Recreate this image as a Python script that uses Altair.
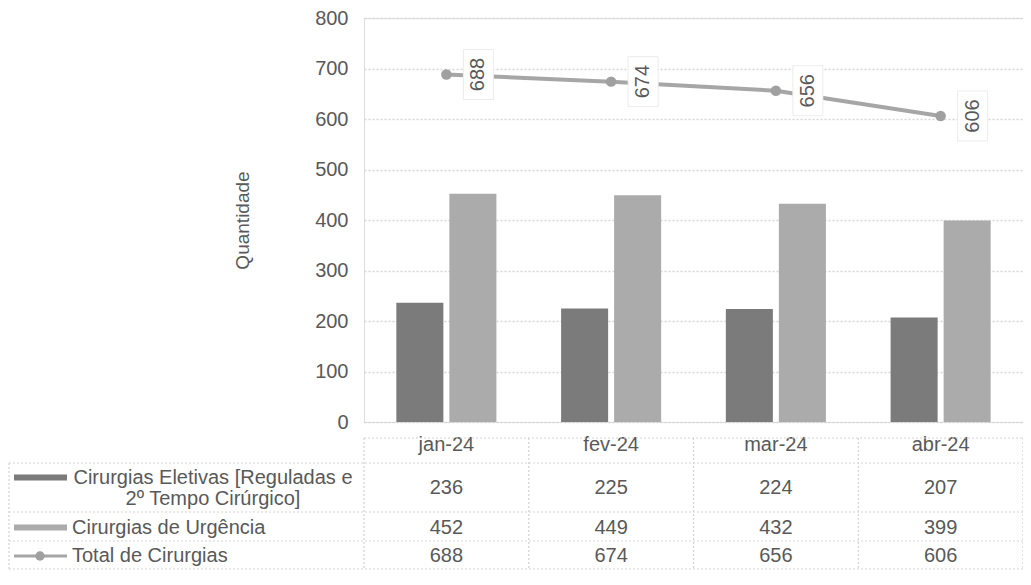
import altair as alt
import pandas as pd

months = ["jan-24", "fev-24", "mar-24", "abr-24"]
eletivas = [236, 225, 224, 207]
urgencia = [452, 449, 432, 399]
total = [688, 674, 656, 606]
series = [
    "Cirurgias Eletivas [Reguladas e\n2º Tempo Cirúrgico]",
    "Cirurgias de Urgência",
    "Total de Cirurgias",
]
y_ticks = [0, 100, 200, 300, 400, 500, 600, 700, 800]

FONT = "Liberation Sans"
TXT = "#595959"
DARK = "#7b7b7b"
LIGHT = "#ababab"
LINEC = "#a6a6a6"
GRID = "#d6d6d6"

W, H = 659, 404
HALF = W / 8  # half of one month column

bars_df = pd.DataFrame({
    "mes": months * 2,
    "serie": [series[0]] * 4 + [series[1]] * 4,
    "valor": eletivas + urgencia,
})
tot_df = pd.DataFrame({"mes": months, "valor": total})
table_df = pd.DataFrame({
    "mes": months * 3,
    "serie": [series[0]] * 4 + [series[1]] * 4 + [series[2]] * 4,
    "valor": eletivas + urgencia + total,
})
leg_df = pd.DataFrame({"serie": series})
one = pd.DataFrame({"k": [0]})

x_enc = alt.X(
    "mes:N", sort=months,
    scale=alt.Scale(paddingInner=0, paddingOuter=0),
    axis=alt.Axis(title=None, labelFontSize=20, labelFont=FONT, labelColor=TXT,
                  labelPadding=22, ticks=False, domain=False, labelAngle=0,
                  labelAlign="center", bandPosition=0.5, grid=False),
)
y_enc = alt.Y(
    "valor:Q",
    scale=alt.Scale(domain=[0, 800], nice=False),
    axis=alt.Axis(title="Quantidade", values=y_ticks, labelFontSize=20, labelFont=FONT,
                  labelColor=TXT, labelPadding=16, ticks=False, domain=False,
                  grid=True, gridColor=GRID, gridDash=[2, 2], gridWidth=1.5,
                  titleFont=FONT, titleFontSize=19, titleFontWeight="normal",
                  titleColor=TXT, titlePadding=62),
)
color_scale = alt.Scale(domain=series[:2], range=[DARK, LIGHT])
xm = alt.X("mes:N", sort=months)

bars = alt.Chart(bars_df).mark_bar().encode(
    x=x_enc,
    xOffset=alt.XOffset("serie:N", sort=series[:2],
                        scale=alt.Scale(paddingInner=0.113, paddingOuter=0.61)),
    y=y_enc,
    color=alt.Color("serie:N", scale=color_scale, legend=None),
)

line = alt.Chart(tot_df).mark_line(color=LINEC, strokeWidth=4).encode(x=xm, y="valor:Q")
pts = alt.Chart(tot_df).mark_circle(size=110, color="#a0a0a0", opacity=1).encode(
    x=xm, y="valor:Q")
boxes = alt.Chart(tot_df).mark_point(
    shape="M-0.6,-1H0.6V1H-0.6Z", size=2500, filled=True, fill="white",
    stroke="#ececec", strokeWidth=1, opacity=1, xOffset=32,
).encode(x=xm, y="valor:Q")
labels = alt.Chart(tot_df).mark_text(
    angle=270, xOffset=32, fontSize=20, font=FONT, color=TXT,
    align="center", baseline="middle",
).encode(x=xm, y="valor:Q", text="valor:Q")

# table geometry (plot coordinates)
T_HEAD, T_A, T_B, T_C, T_END = 420, 445, 494, 523, 551
LEFT = -355
LC = "#d3d3d3"
rule_style = dict(color=LC, strokeDash=[2, 2], strokeWidth=1.2)


def hline(yv, x1, x2):
    return alt.Chart(one).mark_rule(**rule_style).encode(
        x=alt.value(x1), x2=alt.value(x2), y=alt.value(yv))


vlines = alt.Chart(tot_df).mark_rule(xOffset=-HALF, **rule_style).encode(
    x=xm, y=alt.value(T_HEAD), y2=alt.value(T_END))
vline_end = alt.Chart(one).mark_rule(**rule_style).encode(
    x=alt.value(W), y=alt.value(T_HEAD), y2=alt.value(T_END))
vline_left = alt.Chart(one).mark_rule(**rule_style).encode(
    x=alt.value(LEFT), y=alt.value(T_A), y2=alt.value(T_END))

grid_lines = [hline(T_HEAD, 0, W), hline(T_A, LEFT, W), hline(T_B, LEFT, W),
              hline(T_C, LEFT, W), hline(T_END, LEFT, W), vlines, vline_end, vline_left]

row_y = [(T_A + T_B) / 2, (T_B + T_C) / 2 + 1, (T_C + T_END) / 2 + 1]
table_layers = []
for i, s in enumerate(series):
    table_layers.append(
        alt.Chart(table_df).transform_filter(alt.datum.serie == s)
        .mark_text(fontSize=20, font=FONT, color=TXT, align="center", baseline="middle")
        .encode(x=xm, y=alt.value(row_y[i]), text="valor:Q")
    )

leg1 = alt.Chart(leg_df).transform_filter(alt.datum.serie == series[0]).mark_text(
    fontSize=20, font=FONT, color=TXT, align="center", baseline="middle",
    lineBreak="\n", lineHeight=21,
).encode(x=alt.value(-151), y=alt.value(row_y[0] - 10), text="serie:N")
leg_rest = [
    alt.Chart(leg_df).transform_filter(alt.datum.serie == series[i]).mark_text(
        fontSize=20, font=FONT, color=TXT, align="left", baseline="middle",
    ).encode(x=alt.value(-292), y=alt.value(row_y[i]), text="serie:N")
    for i in (1, 2)
]
sw1 = alt.Chart(leg_df).transform_filter(alt.datum.serie == series[0]).mark_rect().encode(
    x=alt.value(-350), x2=alt.value(-297), y=alt.value(row_y[0] - 13), y2=alt.value(row_y[0] - 7),
    color=alt.Color("serie:N", scale=color_scale, legend=None))
sw2 = alt.Chart(leg_df).transform_filter(alt.datum.serie == series[1]).mark_rect().encode(
    x=alt.value(-350), x2=alt.value(-297), y=alt.value(row_y[1] - 3), y2=alt.value(row_y[1] + 3),
    color=alt.Color("serie:N", scale=color_scale, legend=None))
sw3l = alt.Chart(one).mark_rule(color=LINEC, strokeWidth=3).encode(
    x=alt.value(-350), x2=alt.value(-297), y=alt.value(row_y[2]))
sw3p = alt.Chart(one).mark_circle(size=90, color="#a0a0a0", opacity=1).encode(
    x=alt.value(-324), y=alt.value(row_y[2]))

chart = alt.layer(
    *grid_lines, bars, line, pts, boxes, labels, *table_layers,
    leg1, *leg_rest, sw1, sw2, sw3l, sw3p,
).properties(
    width=W, height=H,
    autosize=alt.AutoSizeParams(type="none"),
    padding={"left": 356, "top": 10, "right": 0, "bottom": 148},
).configure_view(stroke=None).configure(background="white")

chart.save("out.html", embed_options={"renderer": "svg", "actions": False})
